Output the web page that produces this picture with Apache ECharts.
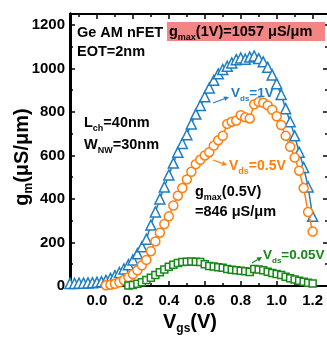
<!DOCTYPE html>
<html><head><meta charset="utf-8">
<script src="https://cdn.jsdelivr.net/npm/echarts@6/dist/echarts.min.js"></script>
<style>html,body{margin:0;padding:0;background:#fff}#c{width:327px;height:337px}</style>
</head><body><div id="c"></div>
<script>
// ---- data ----
const vgsBlue = [-0.15,-0.125,-0.1,-0.075,-0.05,-0.025,0,0.025,0.05,0.075,0.1,0.125,0.15,0.175,0.2,0.225,0.25,0.275,0.3,0.325,0.35,0.375,0.4,0.425,0.45,0.475,0.5,0.525,0.55,0.575,0.6,0.625,0.65,0.675,0.7,0.725,0.75,0.775,0.8,0.825,0.85,0.875,0.9,0.925,0.95,0.975,1.0,1.025,1.05,1.075,1.1,1.125,1.15,1.175,1.2];
const gmBlue = [12,12,13,13,14,15,17,20,26,35,48,62,78,98,120,148,180,215,280,340,400,455,510,565,615,655,695,745,790,830,870,910,945,975,995,1010,1025,1040,1048,1042,1052,1057,1045,1030,1005,970,930,880,815,755,690,615,545,455,320];
const vgsOrange = [0.05,0.075,0.1,0.125,0.15,0.175,0.2,0.225,0.25,0.275,0.3,0.325,0.35,0.375,0.4,0.425,0.45,0.475,0.5,0.525,0.55,0.575,0.6,0.625,0.65,0.675,0.7,0.725,0.75,0.775,0.8,0.825,0.85,0.875,0.9,0.925,0.95,0.975,1.0,1.025,1.05,1.075,1.1,1.125,1.15,1.175,1.2];
const gmOrange = [3,6,10,17,27,40,55,72,95,120,160,205,245,285,320,370,415,450,490,525,560,580,600,615,645,670,690,745,755,760,785,775,770,835,846,842,830,810,780,740,690,640,590,530,450,340,250];
const vgsGreen = [0.175,0.2,0.225,0.25,0.275,0.3,0.325,0.35,0.375,0.4,0.425,0.45,0.475,0.5,0.525,0.55,0.575,0.6,0.625,0.65,0.675,0.7,0.725,0.75,0.775,0.8,0.825,0.85,0.875,0.9,0.925,0.95,0.975,1.0,1.025,1.05,1.075,1.1,1.125,1.15,1.175,1.2];
const gmGreen = [2,5,10,17,27,38,50,63,76,88,98,106,110,112,113,112,110,100,92,90,86,84,78,75,72,70,68,64,78,76,72,66,60,55,50,42,36,30,24,19,15,12];
const xTicks = [0,0.2,0.4,0.6,0.8,1.0,1.2];
const xMinorTicks = [-0.1,0.1,0.3,0.5,0.7,0.9,1.1];
const yTicks = [0,200,400,600,800,1000,1200];
const yMinorTicks = [100,300,500,700,900,1100];

const BLUE = '#1f7ec2', ORANGE = '#ff7f0e', GREEN = '#17871a';
const FF = 'Liberation Sans, Arial, sans-serif';
const XMIN = -0.15, XMAX = 1.28, YMIN = 0, YMAX = 1250;

function zip(a, b) { return a.map((v, i) => [v, b[i]]); }

function xAx(pos, ticks, len, labels, lineW) {
  return {
    type: 'value', position: pos, min: XMIN, max: XMAX,
    axisLine: { show: true, onZero: false, lineStyle: { color: '#000', width: lineW } },
    axisTick: { show: true, inside: true, length: len, customValues: ticks, lineStyle: { color: '#000', width: 1.5 } },
    axisLabel: labels ? { show: true, customValues: ticks, formatter: v => v.toFixed(1), color: '#000', fontSize: 15, fontWeight: 'bold', fontFamily: FF, margin: 7 } : { show: false },
    splitLine: { show: false }
  };
}
function yAx(pos, ticks, len, labels, lineShow, lineW) {
  return {
    type: 'value', position: pos, min: YMIN, max: YMAX,
    axisLine: { show: lineShow, onZero: false, lineStyle: { color: '#000', width: lineW } },
    axisTick: { show: true, inside: true, length: len, customValues: ticks, lineStyle: { color: '#000', width: 1.5 } },
    axisLabel: labels ? { show: true, customValues: ticks, formatter: v => String(v), color: '#000', fontSize: 15, fontWeight: 'bold', fontFamily: FF, margin: 5 } : { show: false },
    splitLine: { show: false }
  };
}

const chart = echarts.init(document.getElementById('c'), null, { renderer: 'canvas' });

const rt = (fs) => ({
  a: { fontSize: fs, fontWeight: 'bold', fontFamily: FF, lineHeight: fs + 6 },
  s: { fontSize: Math.round(fs * 0.62), fontWeight: 'bold', fontFamily: FF, lineHeight: Math.round(fs * 0.62) + 2, verticalAlign: 'bottom' }
});
function txt(x, y, text, fs, color, extra) {
  const r = rt(fs);
  r.a.fill = color; r.s.fill = color;
  return Object.assign({ type: 'text', x: x, y: y, z: 100,
    style: { text: text, rich: r, fill: color, verticalAlign: 'middle', align: 'left' } }, extra || {});
}
function arrow(x1, y1, x2, y2, color) {
  const ang = Math.atan2(y2 - y1, x2 - x1), L = 5, W = 2.5;
  const bx = x2 - L * Math.cos(ang), by = y2 - L * Math.sin(ang);
  const px = -Math.sin(ang) * W, py = Math.cos(ang) * W;
  return [
    { type: 'line', z: 100, shape: { x1: x1, y1: y1, x2: bx, y2: by }, style: { stroke: color, lineWidth: 1.2 } },
    { type: 'polygon', z: 100, shape: { points: [[x2, y2], [bx + px, by + py], [bx - px, by - py]] }, style: { fill: color } }
  ];
}

const graphic = [
  { type: 'rect', z: 90, shape: { x: 167, y: 22, width: 158, height: 19 }, style: { fill: '#f38585' } },
  txt(77, 33, '{a|Ge AM nFET}', 14.5, '#000'),
  txt(169, 32, '{a|g}{s|max}{a|(1V)=1057 μS/μm}', 14.5, '#000'),
  txt(77, 52, '{a|EOT=2nm}', 14.5, '#000'),
  txt(84, 123, '{a|L}{s|ch}{a|=40nm}', 14.5, '#000'),
  txt(84, 145, '{a|W}{s|NW}{a|=30nm}', 14.5, '#000'),
  txt(231, 93, '{a|V}{s|ds}{a|=1V}', 13.5, BLUE),
  txt(229, 166, '{a|V}{s|ds}{a|=0.5V}', 14, ORANGE),
  txt(195, 192, '{a|g}{s|max}{a|(0.5V)}', 14.5, '#000'),
  txt(195, 212, '{a|=846 μS/μm}', 14.5, '#000'),
  txt(263, 255, '{a|V}{s|ds}{a|=0.05V}', 13.5, GREEN),
  txt(22, 157, '{a|g}{s|m}{a|(μS/μm)}', 20, '#000', { rotation: Math.PI / 2, style: { text: '{a|g}{s|m}{a|(μS/μm)}', rich: rt(20), fill: '#000', align: 'center', verticalAlign: 'middle' } }),
  txt(190, 322, '{a|V}{s|gs}{a|(V)}', 20, '#000', { style: { text: '{a|V}{s|gs}{a|(V)}', rich: rt(20), fill: '#000', align: 'center', verticalAlign: 'middle' } })
].concat(arrow(213, 103, 229, 97, BLUE), arrow(213, 160, 227, 165, ORANGE), arrow(252, 263, 262, 257, GREEN));

chart.setOption({
  animation: false,
  backgroundColor: '#fff',
  grid: { left: 70, right: 0, top: 14, bottom: 51, containLabel: false },
  xAxis: [
    xAx('bottom', xTicks, 5, true, 2),
    xAx('bottom', xMinorTicks, 3, false, 2),
    xAx('top', xTicks, 5, false, 2),
    xAx('top', xMinorTicks, 3, false, 2)
  ],
  yAxis: [
    yAx('left', yTicks, 5, true, true, 3),
    yAx('left', yMinorTicks, 3, false, true, 3),
    yAx('right', yTicks, 4, false, false, 1),
    yAx('right', yMinorTicks, 2, false, false, 1)
  ],
  series: [
    { type: 'line', name: 'Vds=1V', data: zip(vgsBlue, gmBlue), symbol: 'triangle', symbolSize: 10,
      lineStyle: { color: BLUE, width: 1.5 }, itemStyle: { color: '#fff', borderColor: BLUE, borderWidth: 1.5 }, z: 3 },
    { type: 'line', name: 'Vds=0.5V', data: zip(vgsOrange, gmOrange), symbol: 'circle', symbolSize: 9,
      lineStyle: { color: ORANGE, width: 1.5 }, itemStyle: { color: '#fff', borderColor: ORANGE, borderWidth: 1.5 }, z: 4 },
    { type: 'line', name: 'Vds=0.05V', data: zip(vgsGreen, gmGreen), symbol: 'rect', symbolSize: 7,
      lineStyle: { color: GREEN, width: 1.5 }, itemStyle: { color: '#fff', borderColor: GREEN, borderWidth: 1.5 }, z: 5 }
  ],
  graphic: graphic
});
</script></body></html>
